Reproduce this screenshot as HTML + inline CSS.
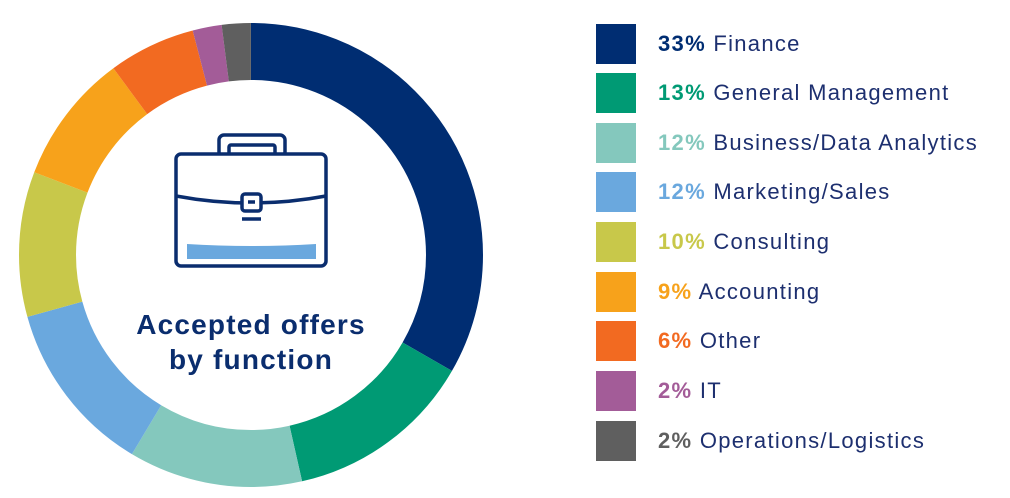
<!DOCTYPE html>
<html><head><meta charset="utf-8"><style>
body{margin:0;background:#fff;width:1010px;height:498px;overflow:hidden;font-family:"Liberation Sans",sans-serif}
.row{position:absolute;left:596px;height:40px;display:flex;align-items:center}
.sq{width:40px;height:40px;margin-right:22px}
.t{font-size:22px;letter-spacing:1.3px;color:#1d2f6f;white-space:nowrap}
.t b{font-weight:bold}
</style></head><body>
<svg width="1010" height="498" style="position:absolute;left:0;top:0">
<g transform="rotate(-90 251 255)" fill="none" stroke-width="57">
<circle cx="251" cy="255" r="203.5" pathLength="99" stroke="#002d72" stroke-dasharray="33 66" stroke-dashoffset="0"/>
<circle cx="251" cy="255" r="203.5" pathLength="99" stroke="#009a74" stroke-dasharray="13 86" stroke-dashoffset="-33"/>
<circle cx="251" cy="255" r="203.5" pathLength="99" stroke="#84c8bd" stroke-dasharray="12 87" stroke-dashoffset="-46"/>
<circle cx="251" cy="255" r="203.5" pathLength="99" stroke="#6aa8de" stroke-dasharray="12 87" stroke-dashoffset="-58"/>
<circle cx="251" cy="255" r="203.5" pathLength="99" stroke="#c8c84a" stroke-dasharray="10 89" stroke-dashoffset="-70"/>
<circle cx="251" cy="255" r="203.5" pathLength="99" stroke="#f7a21b" stroke-dasharray="9 90" stroke-dashoffset="-80"/>
<circle cx="251" cy="255" r="203.5" pathLength="99" stroke="#f26a21" stroke-dasharray="6 93" stroke-dashoffset="-89"/>
<circle cx="251" cy="255" r="203.5" pathLength="99" stroke="#a35c98" stroke-dasharray="2 97" stroke-dashoffset="-95"/>
<circle cx="251" cy="255" r="203.5" pathLength="99" stroke="#5f5f5f" stroke-dasharray="2 97" stroke-dashoffset="-97"/>
</g>
<g fill="none" stroke="#0a2d6e" stroke-width="3.5" stroke-linejoin="round">
<rect x="219" y="135" width="66" height="22" rx="5"/>
<rect x="229" y="145" width="46" height="10" rx="2"/>
<rect x="176" y="154" width="150" height="112" rx="5" fill="#fff"/>
<path d="M176 196 Q251 210 326 196"/>
<rect x="242" y="194" width="19" height="17" rx="3" fill="#fff"/>
<line x1="248" y1="202" x2="255" y2="202"/>
<line x1="242" y1="219" x2="261" y2="219"/>
</g>
<path d="M187 244 Q251 248 316 244 L316 259 L187 259 Z" fill="#6aa8de"/>
<text x="251" y="334" text-anchor="middle" font-family="Liberation Sans" font-weight="bold" font-size="28" letter-spacing="1.2" fill="#0a2d6e">Accepted offers</text>
<text x="251" y="369" text-anchor="middle" font-family="Liberation Sans" font-weight="bold" font-size="28" letter-spacing="1.2" fill="#0a2d6e">by function</text>
</svg>
<div class="row" style="top:24px"><div class="sq" style="background:#002d72"></div><div class="t"><b style="color:#002d72">33%</b> Finance</div></div>
<div class="row" style="top:73px"><div class="sq" style="background:#009a74"></div><div class="t"><b style="color:#009a74">13%</b> General Management</div></div>
<div class="row" style="top:123px"><div class="sq" style="background:#84c8bd"></div><div class="t"><b style="color:#84c8bd">12%</b> Business/Data Analytics</div></div>
<div class="row" style="top:172px"><div class="sq" style="background:#6aa8de"></div><div class="t"><b style="color:#6aa8de">12%</b> Marketing/Sales</div></div>
<div class="row" style="top:222px"><div class="sq" style="background:#c8c84a"></div><div class="t"><b style="color:#c8c84a">10%</b> Consulting</div></div>
<div class="row" style="top:272px"><div class="sq" style="background:#f7a21b"></div><div class="t"><b style="color:#f7a21b">9%</b> Accounting</div></div>
<div class="row" style="top:321px"><div class="sq" style="background:#f26a21"></div><div class="t"><b style="color:#f26a21">6%</b> Other</div></div>
<div class="row" style="top:371px"><div class="sq" style="background:#a35c98"></div><div class="t"><b style="color:#a35c98">2%</b> IT</div></div>
<div class="row" style="top:421px"><div class="sq" style="background:#5f5f5f"></div><div class="t"><b style="color:#5f5f5f">2%</b> Operations/Logistics</div></div>
</body></html>
